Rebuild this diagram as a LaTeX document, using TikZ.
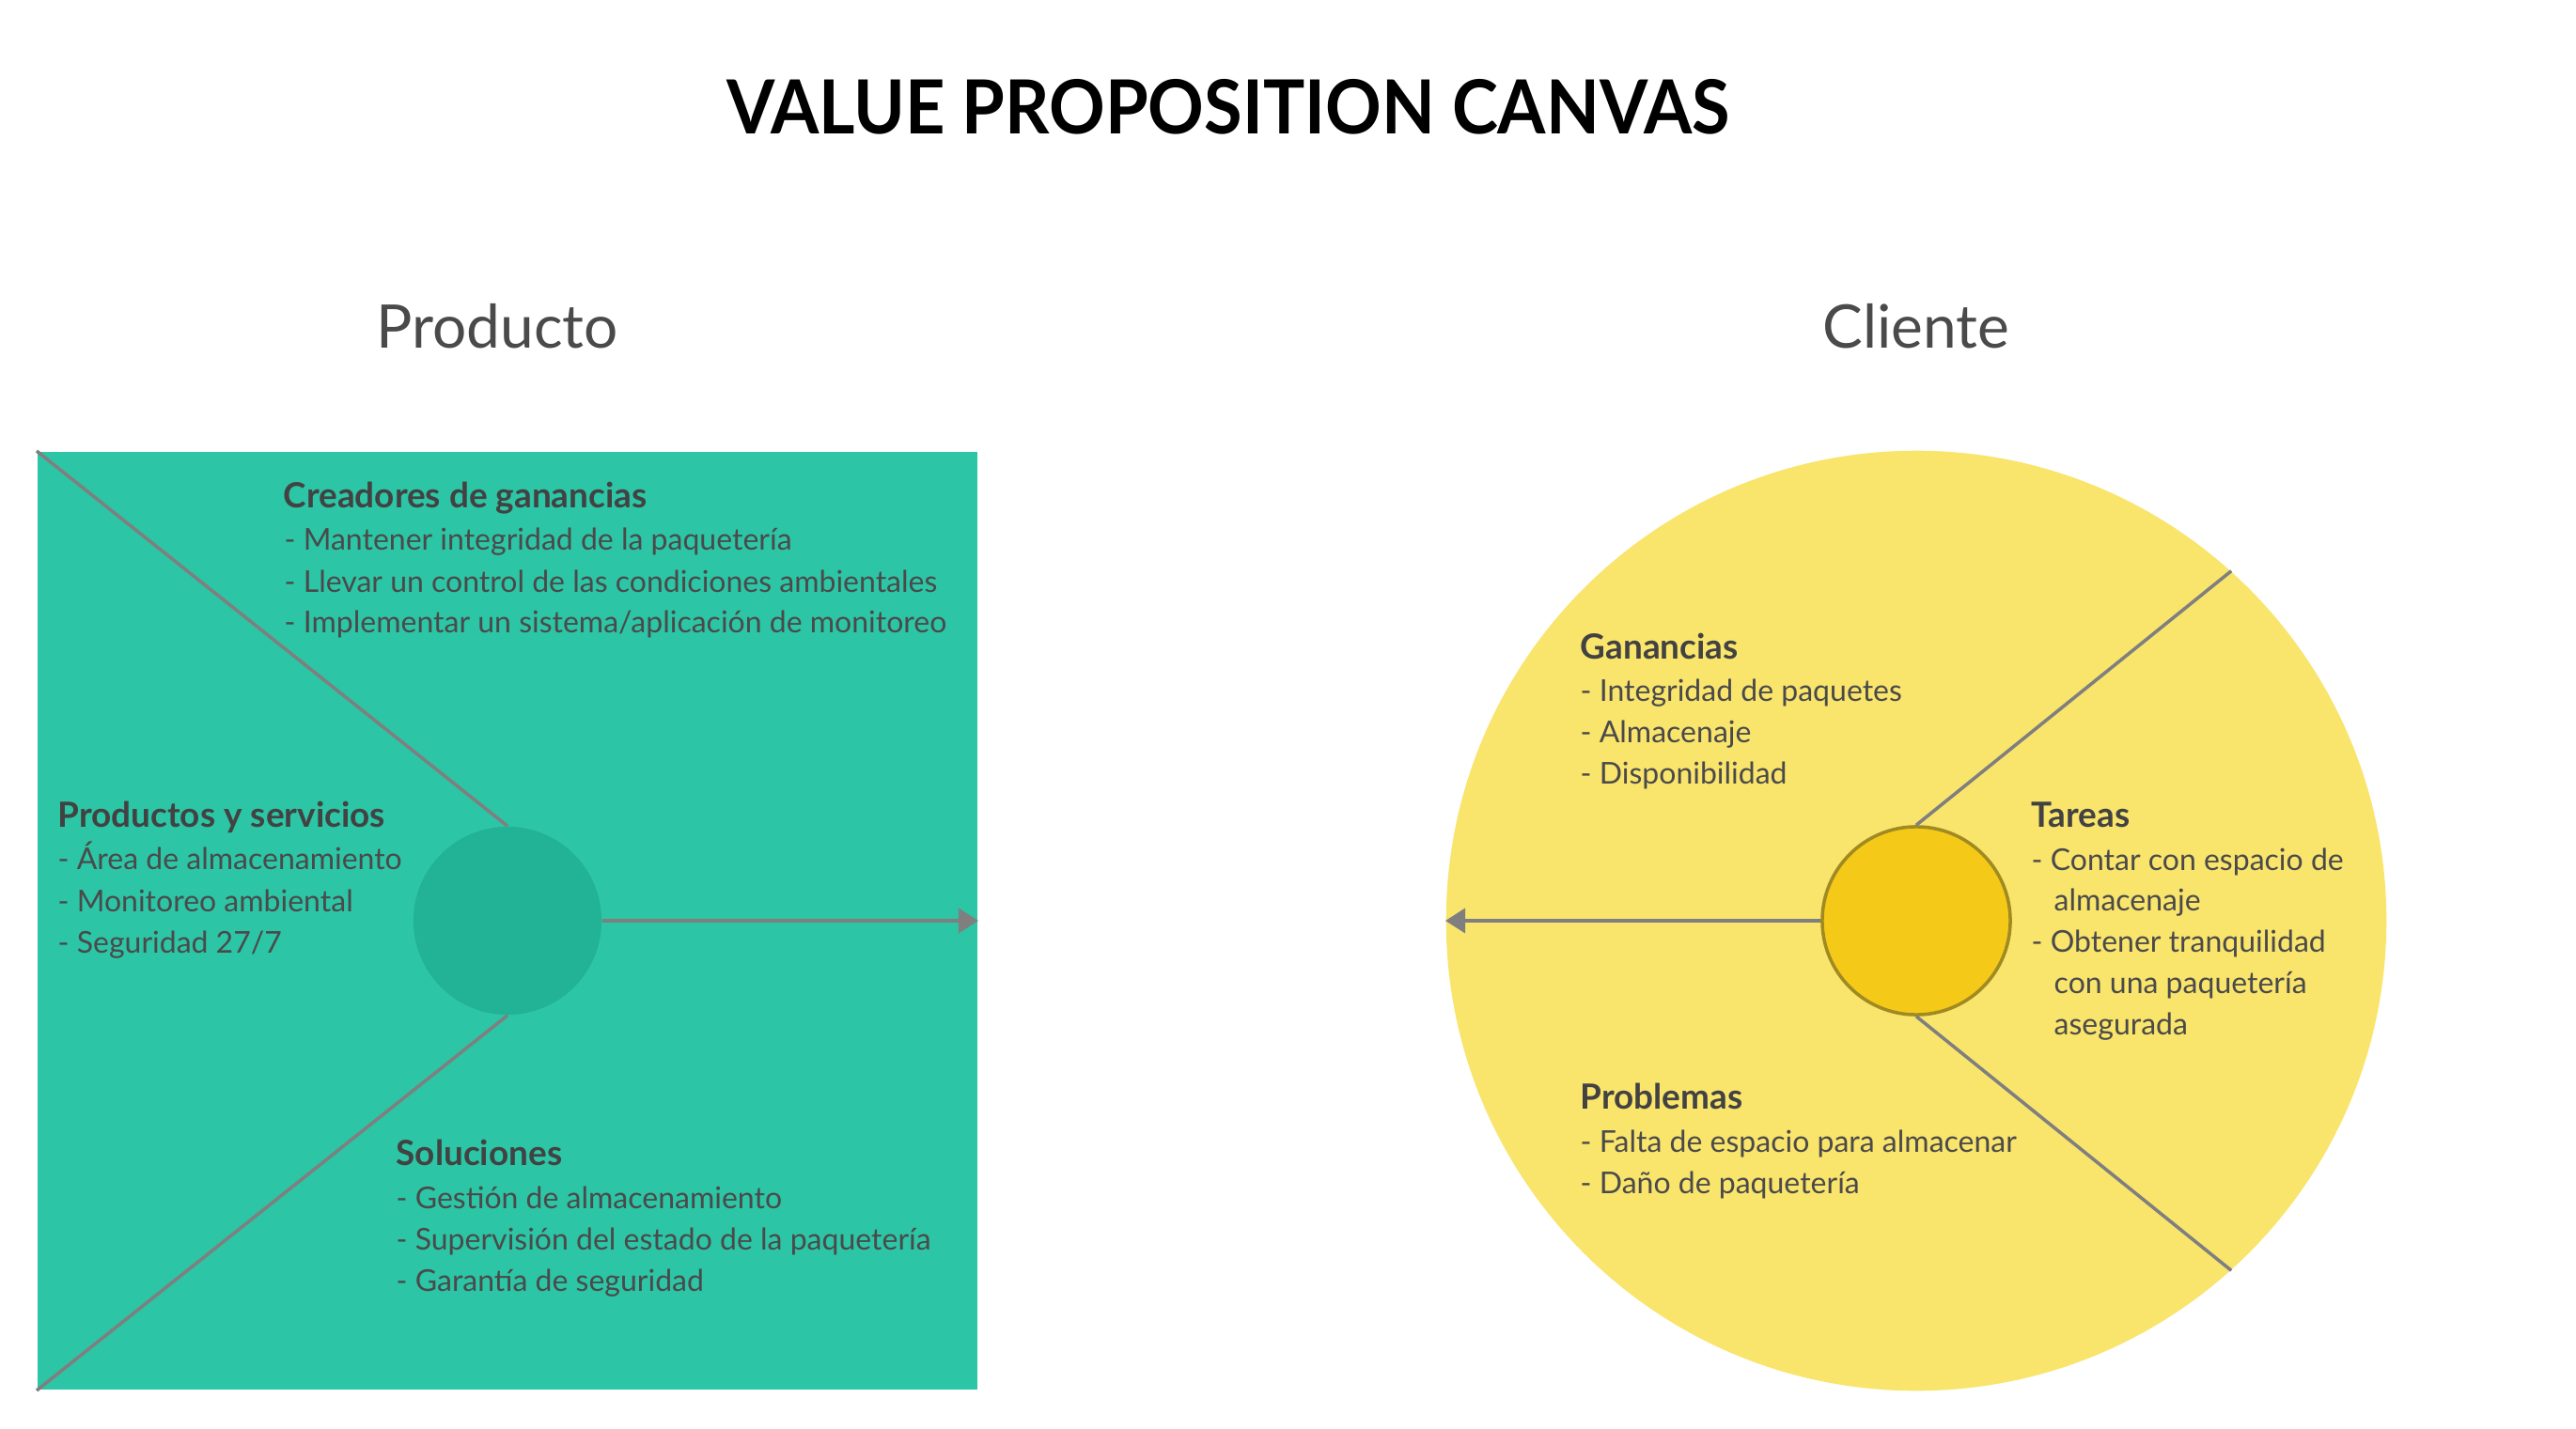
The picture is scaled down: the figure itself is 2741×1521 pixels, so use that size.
\documentclass[tikz,border=0pt]{standalone}
\usepackage{fontspec}
\setmainfont{Lato}
\newfontfamily\vptitlefont[FakeStretch=0.93]{Lato}
\usetikzlibrary{arrows.meta}
\definecolor{vpTeal}{HTML}{2CC5A5}
\definecolor{vpTealDark}{HTML}{22B295}
\definecolor{vpYellow}{HTML}{F9E46C}
\definecolor{vpGold}{HTML}{F5C918}
\definecolor{vpGoldBorder}{HTML}{A08A22}
\definecolor{vpText}{HTML}{4A4A4A}
\definecolor{vpHead}{HTML}{424242}
\definecolor{vpLine}{HTML}{7F7F7F}
\tikzset{
  bodytext/.style={anchor=base west, inner sep=0pt, text=vpText, font=\fontsize{9.1}{11}\selectfont},
  headtext/.style={anchor=base west, inner sep=0pt, text=vpHead, font=\bfseries\fontsize{10.5}{12}\selectfont},
  sidetitle/.style={anchor=base, inner sep=0pt, text=vpText, font=\fontsize{18.2}{22}\selectfont},
  conn/.style={draw=vpLine, line width=1pt},
  arr/.style={conn, -{Triangle[length=0.21cm,width=0.26cm]}},
}
\begin{document}
\begin{tikzpicture}[x=0.01cm,y=-0.01cm]
\useasboundingbox[fill=white] (0,0) rectangle (2741,1521);
% title
\node[anchor=base, inner sep=0pt, font=\vptitlefont\bfseries\fontsize{22.6}{26}\selectfont] (title) at (1307,142) {VALUE PROPOSITION CANVAS};
\node[sidetitle] (prodT) at (529,370) {Producto};
\node[sidetitle] (cliT) at (2039,370) {Cliente};
% product square
\node[fill=vpTeal, minimum width=10cm, minimum height=9.98cm, inner sep=0pt, draw=none] (sq) at (540,980) {};
\node[circle, fill=vpTealDark, minimum size=2cm, inner sep=0pt] (pc) at (540,980) {};
\draw[conn] (sq.north west) -- (pc.north);
\draw[conn] (sq.south west) -- (pc.south);
\draw[arr] (pc.east) -- (sq.east);
% customer circle
\node[circle, fill=vpYellow, minimum size=10cm, inner sep=0pt] (bc) at (2039,980) {};
\node[circle, fill=vpGold, draw=vpGoldBorder, line width=1pt, minimum size=2cm, inner sep=0pt] (yc) at (2039,980) {};
\draw[conn] (yc.north) -- (bc.48);
\draw[conn] (yc.south) -- (bc.-48);
\draw[arr] (yc.west) -- (bc.west);
% texts product
\node[headtext] (cgH) at (301,540) {Creadores de ganancias};
\node[bodytext] (cg1) at (302,585) {- Mantener integridad de la paquetería};
\node[bodytext] (cg2) at (302,630) {- Llevar un control de las condiciones ambientales};
\node[bodytext] (cg3) at (302,673) {- Implementar un sistema/aplicación de monitoreo};
\node[headtext] (psH) at (61,880) {Productos y servicios};
\node[bodytext] (ps1) at (61,925) {- Área de almacenamiento};
\node[bodytext] (ps2) at (61,970) {- Monitoreo ambiental};
\node[bodytext] (ps3) at (61,1014) {- Seguridad 27/7};
\node[headtext] (soH) at (421,1240) {Soluciones};
\node[bodytext] (so1) at (421,1286) {- Gestión de almacenamiento};
\node[bodytext] (so2) at (421,1330) {- Supervisión del estado de la paquetería};
\node[bodytext] (so3) at (421,1374) {- Garantía de seguridad};
% texts customer
\node[headtext] (gaH) at (1681,701) {Ganancias};
\node[bodytext] (ga1) at (1681,746) {- Integridad de paquetes};
\node[bodytext] (ga2) at (1681,790) {- Almacenaje};
\node[bodytext] (ga3) at (1681,834) {- Disponibilidad};
\node[headtext] (taH) at (2161,880) {Tareas};
\node[bodytext] (ta1) at (2161,926) {- Contar con espacio de};
\node[bodytext] (ta2) at (2185,969) {almacenaje};
\node[bodytext] (ta3) at (2161,1013) {- Obtener tranquilidad};
\node[bodytext] (ta4) at (2185,1057) {con una paquetería};
\node[bodytext] (ta5) at (2185,1101) {asegurada};
\node[headtext] (prH) at (1681,1180) {Problemas};
\node[bodytext] (pr1) at (1681,1226) {- Falta de espacio para almacenar};
\node[bodytext] (pr2) at (1681,1270) {- Daño de paquetería};
\end{tikzpicture}
\end{document}
